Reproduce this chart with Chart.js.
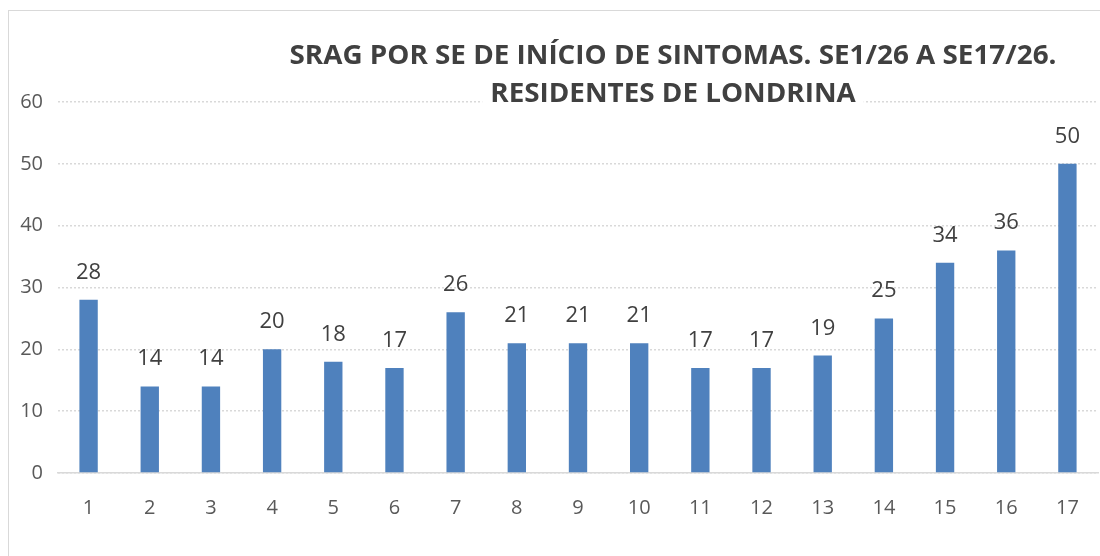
<!DOCTYPE html>
<html>
<head>
<meta charset="utf-8">
<script src="https://cdn.jsdelivr.net/npm/chart.js@4.4.1/dist/chart.umd.min.js"></script>
<style>
  body { margin: 0; background: #fff; }
  #wrap { position: relative; width: 1100px; height: 556px; overflow: hidden; }
  #frame { position: absolute; left: 8px; top: 10px; width: 1200px; height: 700px; border: 1px solid #d9d9d9; }
  canvas { position: absolute; left: 0; top: 0; }
</style>
</head>
<body>
<div id="wrap">
  <div id="frame"></div>
  <canvas id="grafico" width="1100" height="556"></canvas>
</div>
<script>
// semanas epidemiologicas e casos
const semanas = ["1", "2", "3", "4", "5", "6", "7", "8", "9", "10", "11", "12", "13", "14", "15", "16", "17"];
const casos = [28, 14, 14, 20, 18, 17, 26, 21, 21, 21, 17, 17, 19, 25, 34, 36, 50];
const titulo = ["SRAG POR SE DE INÍCIO DE SINTOMAS. SE1/26 A SE17/26.", "RESIDENTES DE LONDRINA"];
const yTicks = [0, 10, 20, 30, 40, 50, 60];

// rotulos em cima das barras
const rotulos = {
    id: "rotulos",
    afterDatasetsDraw(chart) {
        const ctx = chart.ctx;
        const meta = chart.getDatasetMeta(0);
        ctx.save();
        ctx.font = "22px 'Open Sans'";
        ctx.fillStyle = "#404040";
        ctx.textAlign = "center";
        ctx.textBaseline = "alphabetic";
        meta.data.forEach((bar, i) => {
            ctx.fillText(casos[i], bar.x, bar.y - 21);
        });
        ctx.restore();
    }
};

// titulo desenhado por cima da grade
const tituloPlugin = {
    id: "tituloPlugin",
    afterDraw(chart) {
        const ctx = chart.ctx;
        ctx.save();
        ctx.font = "bold 27px 'Open Sans'";
        ctx.textAlign = "center";
        ctx.textBaseline = "middle";
        const w1 = ctx.measureText(titulo[0]).width;
        const sx = 767 / w1;
        const cx = 673;
        const w2 = ctx.measureText(titulo[1]).width * sx;
        ctx.fillStyle = "#fff";
        ctx.fillRect(cx - w2 / 2 - 8, 80, w2 + 16, 32);
        ctx.fillStyle = "#404040";
        ctx.translate(cx, 0);
        ctx.scale(sx, 1);
        ctx.fillText(titulo[0], 0, 56);
        ctx.fillText(titulo[1], 0, 94);
        ctx.restore();
    }
};

const ctx = document.getElementById("grafico").getContext("2d");
const grafico = new Chart(ctx, {
    type: "bar",
    data: {
        labels: semanas,
        datasets: [{
            data: casos,
            backgroundColor: "#4F81BD",
            barPercentage: 0.6,
            categoryPercentage: 0.5
        }]
    },
    options: {
        responsive: false,
        animation: false,
        layout: { padding: { top: 102, right: 2, left: 0, bottom: 0 } },
        plugins: {
            legend: { display: false },
            tooltip: { enabled: false }
        },
        scales: {
            x: {
                grid: { display: false },
                border: { display: true, color: "#d9d9d9", width: 1.5 },
                ticks: { color: "#595959", font: { family: "Open Sans", size: 20 }, padding: 15 },
                afterFit(scale) { scale.height = 83; }
            },
            y: {
                min: 0,
                max: 60,
                afterBuildTicks(scale) { scale.ticks = yTicks.map(v => ({ value: v })); },
                grid: { color: "#d9d9d9", drawTicks: false, lineWidth: 1.5 },
                border: { display: false, dash: [2, 2] },
                ticks: { color: "#595959", font: { family: "Open Sans", size: 20 }, padding: 15 },
                afterFit(scale) { scale.width = 58; }
            }
        }
    },
    plugins: [rotulos, tituloPlugin]
});
</script>
</body>
</html>
